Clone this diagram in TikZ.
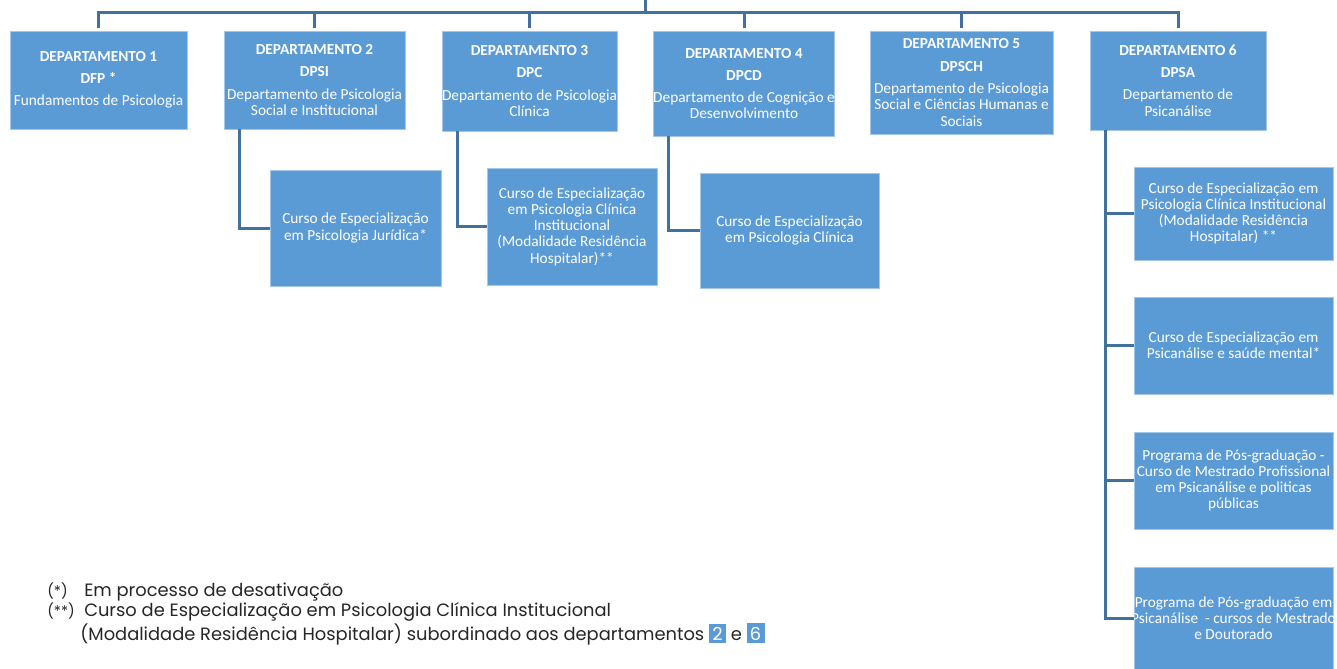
\documentclass[tikz,border=0pt]{standalone}
\usepackage{fontspec}
\setmainfont{Carlito}
\newfontfamily\notefont{Poppins}
\definecolor{boxblue}{HTML}{5B9BD5}
\definecolor{linkblue}{HTML}{41719C}
\newcommand\marca[1]{\makebox[27.75pt][l]{\fontsize{11}{14}\selectfont #1}}
\begin{document}
\begin{tikzpicture}[x=0.75pt,y=-0.75pt,
    caixa/.style={fill=boxblue,draw=boxblue!55!white,line width=0.6pt,text=white,
      align=center,inner sep=0pt,font=\fontsize{11.5}{12.2}\selectfont},
    dims/.style n args={2}{minimum width=#1*0.75pt,minimum height=#2*0.75pt},
    conn/.style={draw=linkblue,line width=2.25pt},
    nota/.style={anchor=base west,inner sep=0pt,text=black!85,
      font=\notefont\fontsize{13.4}{16}\selectfont}]
    \useasboundingbox (0,0) rectangle (1337,668);
    \clip (0,0) rectangle (1337,668);
    % departamentos
    \node[caixa,dims={177}{98}] (d1) at (98.5,80)
      {\textbf{DEPARTAMENTO 1}\\[4.5pt]\textbf{DFP *}\\[4.5pt]Fundamentos de Psicologia};
    \node[caixa,dims={181}{98}] (d2) at (314.5,80)
      {\textbf{DEPARTAMENTO 2}\\[4.5pt]\textbf{DPSI}\\[4.5pt]Departamento de Psicologia\\Social e Institucional};
    \node[caixa,dims={175}{100}] (d3) at (529.5,81)
      {\textbf{DEPARTAMENTO 3}\\[4.5pt]\textbf{DPC}\\[4.5pt]Departamento de Psicologia\\Clínica};
    \node[caixa,dims={180}{105}] (d4) at (744,83.5)
      {\textbf{DEPARTAMENTO 4}\\[4.5pt]\textbf{DPCD}\\[4.5pt]Departamento de Cognição e\\Desenvolvimento};
    \node[caixa,dims={183}{103}] (d5) at (961.5,82.5)
      {\textbf{DEPARTAMENTO 5}\\[4.5pt]\textbf{DPSCH}\\[4.5pt]Departamento de Psicologia\\Social e Ciências Humanas e\\Sociais};
    \node[caixa,dims={176}{99}] (d6) at (1178,80.5)
      {\textbf{DEPARTAMENTO 6}\\[4.5pt]\textbf{DPSA}\\[4.5pt]Departamento de\\Psicanálise};
    % cursos
    \node[caixa,dims={171}{116}] (c2) at (355.5,228)
      {Curso de Especialização\\em Psicologia Jurídica*};
    \node[caixa,dims={170}{117}] (c3) at (572,226.5)
      {Curso de Especialização\\em Psicologia Clínica\\Institucional\\(Modalidade Residência\\Hospitalar)**};
    \node[caixa,dims={179}{115}] (c4) at (789.5,230.5)
      {Curso de Especialização\\em Psicologia Clínica};
    \node[caixa,dims={199}{93}] (p1) at (1233.5,213.5)
      {Curso de Especialização em\\Psicologia Clínica Institucional\\(Modalidade Residência\\Hospitalar) **};
    \node[caixa,dims={199}{97}] (p2) at (1233.5,345.5)
      {Curso de Especialização em\\Psicanálise e saúde mental*};
    \node[caixa,dims={199}{97}] (p3) at (1233.5,480.5)
      {Programa de Pós-graduação -\\Curso de Mestrado Profissional\\em Psicanálise e politicas\\públicas};
    \node[caixa,dims={199}{102}] (p4) at (1233.5,618)
      {\makebox[149pt]{Programa de Pós-graduação em}\\\makebox[149pt]{Psicanálise~ - cursos de Mestrado}\\e Doutorado};
    % ligacoes
    \coordinate (topo) at (645,0);
    \coordinate (hub) at (645,12);
    \draw[conn] (topo) -- (hub);
    \draw[conn,shorten <=2pt] (d1.north) |- (hub);
    \draw[conn,shorten >=2pt] (hub) -| (d6.north);
    \foreach \d in {d2,d3,d4,d5}
      \draw[conn,shorten <=2pt] (\d.north) -- (\d.north |- hub);
    \draw[conn] ([xshift=12pt]d2.south west) |- (c2.west);
    \draw[conn] ([xshift=12pt]d3.south west) |- (c3.west);
    \draw[conn] ([xshift=12pt]d4.south west) |- (c4.west);
    \draw[conn] ([xshift=12pt]d6.south west) |- (p4.west);
    \foreach \p in {p1,p2,p3}
      \draw[conn] ([xshift=12pt]d6.south west |- \p.west) -- (\p.west);
    % notas
    \node[nota] (nota1) at (47,596) {\marca{(*)}Em processo de desativação};
    \node[nota] (nota2) at (47,616) {\marca{(**)}Curso de Especialização em Psicologia Clínica Institucional};
    \node[nota] (nota3) at (80,640) {(Modalidade Residência Hospitalar) subordinado aos departamentos
      \setlength{\fboxsep}{2.5pt}\colorbox{boxblue}{\textcolor{white}{2}} e \colorbox{boxblue}{\textcolor{white}{6}}};
\end{tikzpicture}
\end{document}
